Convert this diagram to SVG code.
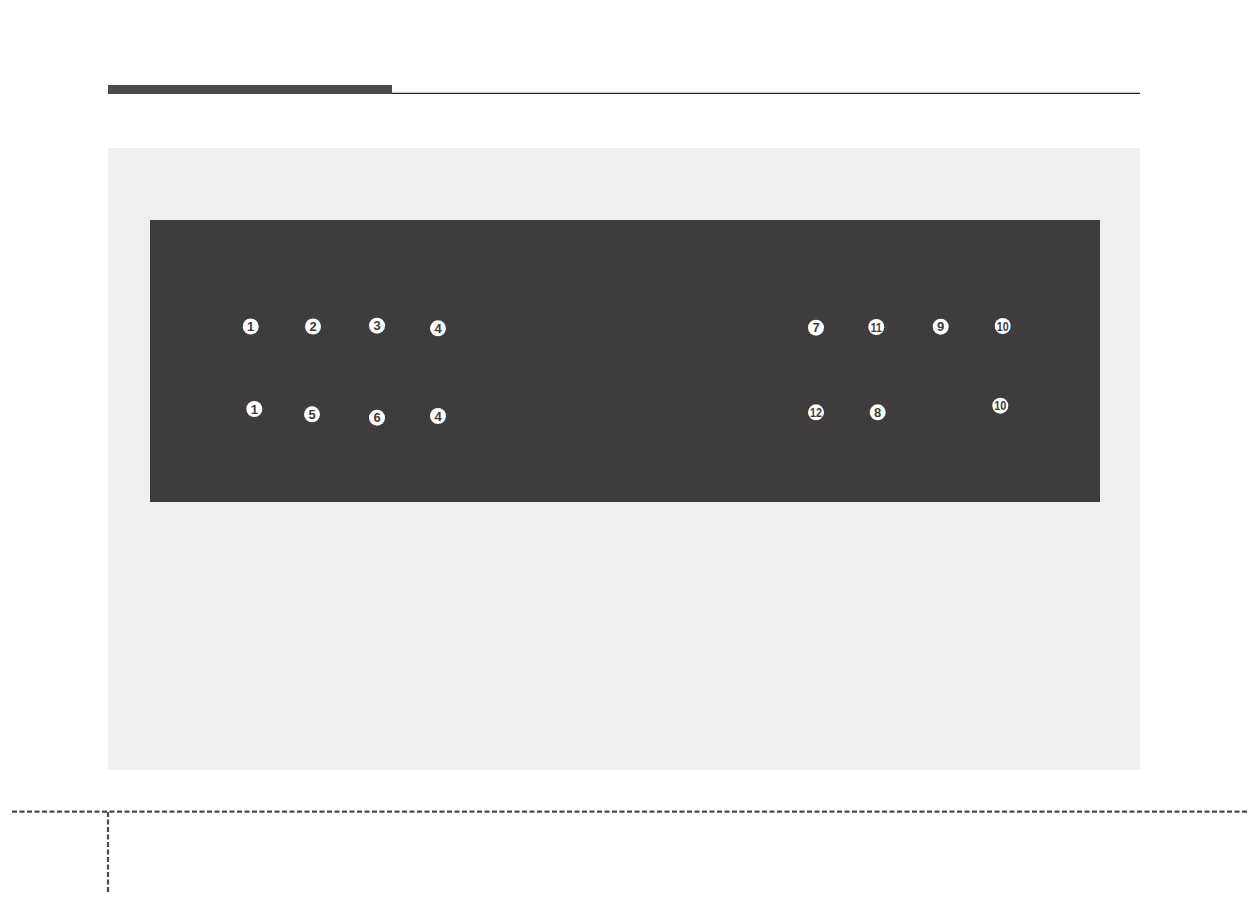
<svg xmlns="http://www.w3.org/2000/svg" width="1249" height="897" viewBox="0 0 1249 897">
<style>
.c{fill:#ffffff}
.t{font-family:"Liberation Sans",Arial,sans-serif;font-weight:bold;font-size:13px;fill:#3e3c3d;text-anchor:middle}
.t2{font-family:"Liberation Sans",Arial,sans-serif;font-weight:bold;font-size:13px;fill:#3e3c3d;text-anchor:middle}
.dash{stroke:#4a4a4a;stroke-width:2.2;stroke-dasharray:5 2.5;fill:none}
</style>
<rect x="0" y="0" width="1249" height="897" fill="#ffffff"/>
<rect x="108" y="85" width="284" height="9" fill="#4d4b4c"/>
<line x1="392" y1="93.3" x2="1140" y2="93.3" stroke="#231f20" stroke-width="1.3"/>
<rect x="108" y="148" width="1032" height="622" fill="#efefef"/>
<rect x="150" y="220" width="950" height="282" fill="#3e3c3d"/>
<g id="n1a"><circle class="c" cx="250.7" cy="326.5" r="8"/><text class="t" x="250.7" y="331.2">1</text></g>
<g id="n2"><circle class="c" cx="313" cy="326.5" r="8"/><text class="t" x="313" y="331.2">2</text></g>
<g id="n3"><circle class="c" cx="377" cy="325.7" r="8"/><text class="t" x="377" y="330.4">3</text></g>
<g id="n4a"><circle class="c" cx="438" cy="328.3" r="8"/><text class="t" x="438" y="333">4</text></g>
<g id="n1b"><circle class="c" cx="254.3" cy="409" r="8"/><text class="t" x="254.3" y="413.7">1</text></g>
<g id="n5"><circle class="c" cx="312" cy="414.3" r="8"/><text class="t" x="312" y="419">5</text></g>
<g id="n6"><circle class="c" cx="377" cy="417.7" r="8"/><text class="t" x="377" y="422.4">6</text></g>
<g id="n4b"><circle class="c" cx="438" cy="416" r="8"/><text class="t" x="438" y="420.7">4</text></g>
<g id="n7"><circle class="c" cx="816" cy="327.7" r="8"/><text class="t" x="816" y="332.4">7</text></g>
<g id="n11"><circle class="c" cx="876.3" cy="327" r="8"/><text class="t2" x="876.3" y="331.7" textLength="11" lengthAdjust="spacingAndGlyphs">11</text></g>
<g id="n9"><circle class="c" cx="940.7" cy="326.7" r="8"/><text class="t" x="940.7" y="331.4">9</text></g>
<g id="n10a"><circle class="c" cx="1002.7" cy="326" r="8"/><text class="t2" x="1002.7" y="330.7" textLength="12" lengthAdjust="spacingAndGlyphs">10</text></g>
<g id="n12"><circle class="c" cx="816" cy="412.3" r="8"/><text class="t2" x="816" y="417" textLength="12" lengthAdjust="spacingAndGlyphs">12</text></g>
<g id="n8"><circle class="c" cx="877.7" cy="412.3" r="8"/><text class="t" x="877.7" y="417">8</text></g>
<g id="n10b"><circle class="c" cx="1000.3" cy="405.7" r="8"/><text class="t2" x="1000.3" y="410.4" textLength="12" lengthAdjust="spacingAndGlyphs">10</text></g>
<g id="connectors"></g>
<line class="dash" x1="12" y1="811.7" x2="1249" y2="811.7"/>
<line class="dash" x1="108" y1="812" x2="108" y2="892"/>
</svg>
